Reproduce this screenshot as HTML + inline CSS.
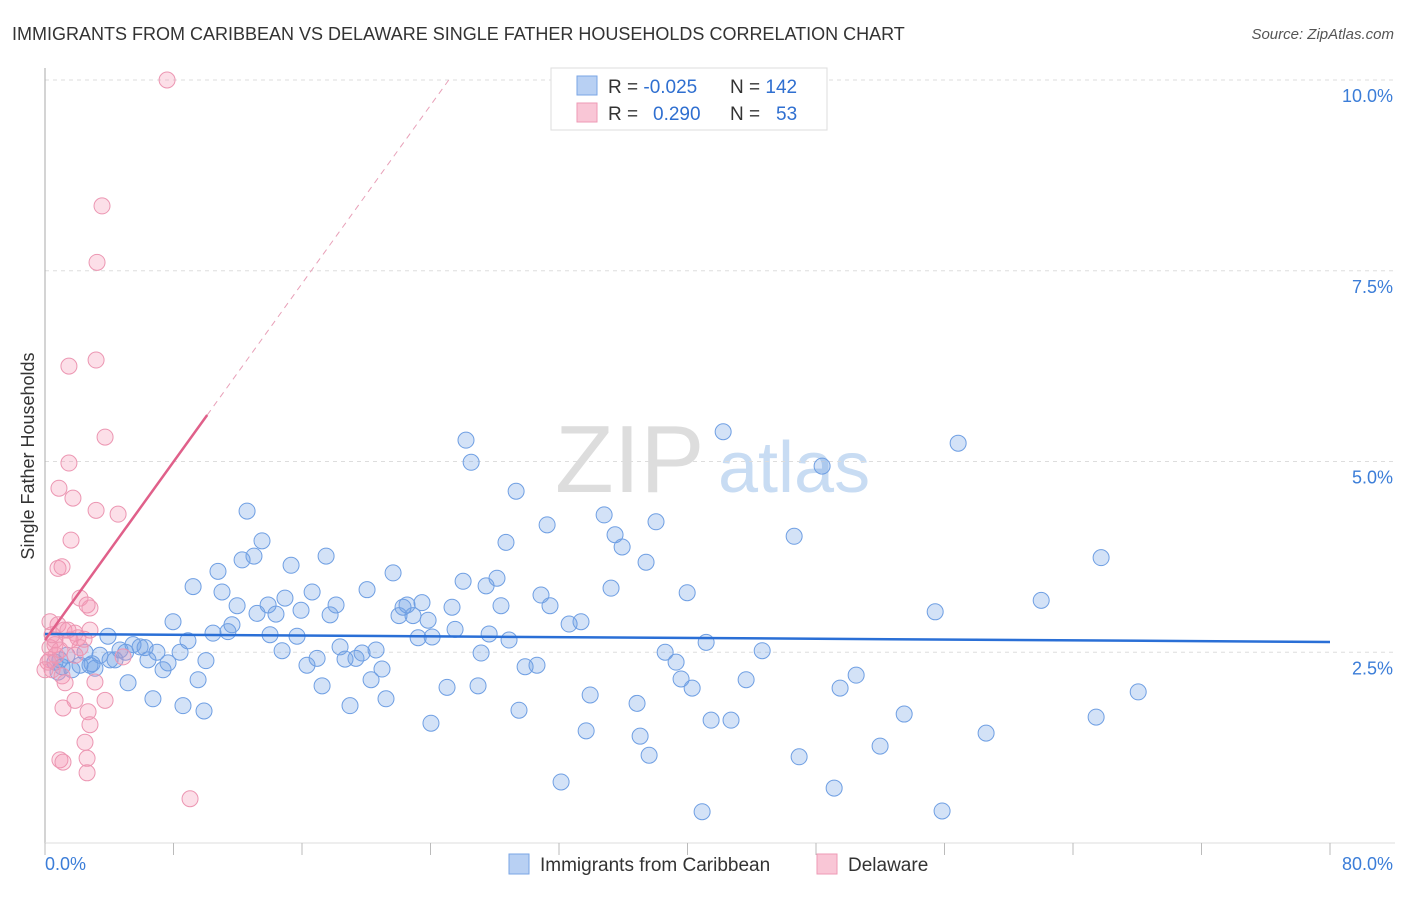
<!DOCTYPE html>
<html><head><meta charset="utf-8"><style>
body{margin:0;background:#fff;font-family:"Liberation Sans",sans-serif;}
svg text{font-family:"Liberation Sans",sans-serif;}
</style></head><body>
<svg id="chart" width="1406" height="892" viewBox="0 0 1406 892" xmlns="http://www.w3.org/2000/svg">
<text x="12" y="40" font-size="18" fill="#333">IMMIGRANTS FROM CARIBBEAN VS DELAWARE SINGLE FATHER HOUSEHOLDS CORRELATION CHART</text>
<text x="1394" y="39" font-size="15" fill="#555" text-anchor="end" font-style="italic">Source: ZipAtlas.com</text>
<text x="555" y="492" font-size="96" fill="#ddd" font-family="Liberation Serif">ZIP</text>
<text x="718" y="492" font-size="72" fill="#c8dcf3">atlas</text>
<g id="grid"></g>
<g id="axes"></g>
<g id="pts"></g>
<g id="lines"></g>
<text transform="translate(34,456) rotate(-90)" font-size="18" fill="#333" text-anchor="middle">Single Father Households</text>
<text x="45" y="870" font-size="18" fill="#3b7dd8">0.0%</text>
<text x="1393" y="870" font-size="18" fill="#3b7dd8" text-anchor="end">80.0%</text>
<g>
<rect x="551" y="68" width="276" height="62" fill="#fff" stroke="#ddd"/>
<rect x="577" y="76" width="20" height="19" fill="#b8d0f3" stroke="#7aa6e6"/>
<rect x="577" y="103" width="20" height="19" fill="#f9c6d6" stroke="#ee9ab5"/>
<text x="608" y="93" font-size="19" fill="#333">R = <tspan fill="#2f6fd0">-0.025</tspan></text>
<text x="730" y="93" font-size="19" fill="#333">N = <tspan fill="#2f6fd0">142</tspan></text>
<text x="608" y="120" font-size="19" fill="#333">R = <tspan fill="#2f6fd0" x="653">0.290</tspan></text>
<text x="730" y="120" font-size="19" fill="#333">N = <tspan fill="#2f6fd0" x="776">53</tspan></text>
</g>
<g>
<rect x="509" y="854" width="20" height="20" fill="#b8d0f3" stroke="#7aa6e6"/>
<text x="540" y="871" font-size="19" fill="#333">Immigrants from Caribbean</text>
<rect x="817" y="854" width="20" height="20" fill="#f9c6d6" stroke="#ee9ab5"/>
<text x="848" y="871" font-size="19" fill="#333">Delaware</text>
</g>
</svg>
<script>
const blueX=[3.92,5.02,5.92,6.23,6.97,7.66,8.41,8.90,10.02,10.46,11.39,9.53,5.17,6.72,8.59,9.90,7.97,9.22,10.77,11.02,11.96,12.27,12.58,13.01,13.51,11.64,13.20,14.01,13.89,14.38,14.94,15.32,15.69,14.76,15.94,16.63,16.31,16.94,17.25,17.50,17.75,18.12,18.37,18.68,18.99,19.36,19.74,20.05,20.30,20.61,20.98,21.23,21.67,22.04,22.29,22.54,22.91,23.23,23.47,23.85,24.10,24.03,25.03,25.34,25.53,26.03,26.21,26.53,26.96,27.15,27.46,27.65,28.14,28.39,28.89,29.33,29.51,28.70,29.89,30.63,30.88,31.26,31.44,32.13,32.63,33.37,33.69,33.94,34.81,35.24,35.49,35.93,36.86,37.05,37.42,37.61,38.04,38.61,39.29,39.60,39.98,40.29,40.91,41.16,41.47,42.22,42.71,43.65,44.65,46.64,46.95,48.38,49.13,49.50,50.50,51.99,53.49,55.42,55.85,56.85,58.59,62.02,65.44,65.75,68.06,1.06,1.68,2.18,2.80,3.11,3.42,4.05,4.36,0.93,0.62,1.37,2.49,2.93,4.67,5.48,6.41,7.35,0.81];
const blueY=[2.71,2.50,2.57,2.56,2.50,2.36,2.50,2.65,2.39,2.75,2.77,2.14,2.10,1.89,1.80,1.73,2.90,3.36,3.56,3.29,3.11,3.71,4.35,3.76,3.96,2.86,3.01,2.73,3.12,3.00,3.21,3.64,2.71,2.52,3.05,3.29,2.33,2.42,2.06,3.76,2.99,3.12,2.57,2.41,1.80,2.42,2.49,3.32,2.14,2.53,2.28,1.89,3.54,2.98,3.09,3.12,2.98,2.69,3.15,2.92,2.70,1.57,2.04,3.09,2.80,3.43,5.28,4.99,2.06,2.49,3.37,2.74,3.47,3.11,2.66,4.61,1.74,3.94,2.31,2.33,3.25,4.17,3.11,0.80,2.87,2.90,1.47,1.94,4.30,3.34,4.04,3.88,1.83,1.40,3.68,1.15,4.21,2.50,2.37,2.15,3.28,2.03,0.41,2.63,1.61,5.39,1.61,2.14,2.52,4.02,1.13,4.94,0.72,2.03,2.20,1.27,1.69,3.03,0.42,5.24,1.44,3.18,1.65,3.74,1.98,2.31,2.27,2.33,2.33,2.29,2.46,2.40,2.40,2.40,2.37,2.46,2.50,2.35,2.53,2.60,2.40,2.27,2.24];
const pinkX=[7.60,3.55,3.24,3.18,1.49,3.74,1.49,0.87,1.74,3.18,4.55,1.62,0.81,1.06,2.18,2.80,2.62,0.31,0.81,1.18,1.87,2.05,2.43,0.62,2.18,4.86,0.31,0.44,1.06,1.25,3.11,1.87,3.74,1.12,2.68,2.80,2.49,0.93,1.12,2.62,2.62,9.03,0.31,0.19,0.68,1.56,2.80,0.62,1.43,0.00,0.44,1.87,0.93];
const pinkY=[10.00,8.35,7.61,6.33,6.25,5.32,4.98,4.65,4.52,4.36,4.31,3.97,3.60,3.62,3.21,3.08,3.12,2.90,2.86,2.79,2.75,2.69,2.67,2.60,2.56,2.44,2.40,2.27,2.19,2.10,2.11,1.87,1.87,1.77,1.72,1.55,1.32,1.09,1.06,1.11,0.92,0.58,2.56,2.37,2.46,2.66,2.79,2.66,2.79,2.27,2.73,2.46,2.53];
const yTicks=[2.5,5.0,7.5,10.0];
const yTickLabels=["2.5%","5.0%","7.5%","10.0%"];
const xTicks=[0,8,16,24,32,40,48,56,64,72,80];
const blueTrend=[2.74,2.635];   // y at x=0 and x=80
const pinkTrend=[2.66,0.292];  // intercept, slope
const pinkSolidEnd=10.1;

const NS="http://www.w3.org/2000/svg";
const X0=45,X1=1330,Y0=843,YS=76.3;
const sx=v=>X0+v*(X1-X0)/80;
const sy=v=>Y0-v*YS;
function mk(tag,attrs,parent){const e=document.createElementNS(NS,tag);for(const k in attrs)e.setAttribute(k,attrs[k]);parent.appendChild(e);return e;}
const grid=document.getElementById('grid'),axes=document.getElementById('axes'),pts=document.getElementById('pts'),lines=document.getElementById('lines');
yTicks.forEach((t,i)=>{
  const l=mk('line',{x1:X0,x2:1395,y1:sy(t),y2:sy(t),stroke:'#ddd','stroke-dasharray':'4,4'},grid);
  
  
  const tx=mk('text',{x:1393,y:sy(t)+22,'font-size':18,fill:'#3b7dd8','text-anchor':'end'},grid);
  tx.textContent=yTickLabels[i];
  
  
});
const ya=mk('line',{x1:X0,x2:X0,y1:68,y2:Y0,stroke:'#aaa'},axes);


const xa=mk('line',{x1:X0,x2:1395,y1:Y0,y2:Y0,stroke:'#ddd'},axes);


xTicks.forEach(t=>{
  const l=mk('line',{x1:sx(t),x2:sx(t),y1:Y0,y2:Y0+12,stroke:'#bbb'},axes);
  
  
});
blueX.forEach((x,i)=>{
  const c=mk('circle',{cx:sx(x),cy:sy(blueY[i]),r:8,fill:'rgba(110,160,230,0.3)',stroke:'#6f9fe3','stroke-width':1},pts);
  
  
});
pinkX.forEach((x,i)=>{
  const c=mk('circle',{cx:sx(x),cy:sy(pinkY[i]),r:8,fill:'rgba(244,150,180,0.3)',stroke:'#ec96b2','stroke-width':1},pts);
  
  
});
const bl=mk('line',{x1:sx(0),y1:sy(blueTrend[0]),x2:sx(80),y2:sy(blueTrend[1]),stroke:'#2a6fd6','stroke-width':2.5},lines);


const pl=mk('line',{x1:sx(0),y1:sy(pinkTrend[0]),x2:sx(pinkSolidEnd),y2:sy(pinkTrend[0]+pinkTrend[1]*pinkSolidEnd),stroke:'#e0608a','stroke-width':2.5},lines);


const xEnd=(10.0-pinkTrend[0])/pinkTrend[1];
const pd=mk('line',{x1:sx(pinkSolidEnd),y1:sy(pinkTrend[0]+pinkTrend[1]*pinkSolidEnd),x2:sx(xEnd),y2:sy(10.0),stroke:'#e8a0b8','stroke-width':1,'stroke-dasharray':'6,5'},lines);


</script>
</body></html>
